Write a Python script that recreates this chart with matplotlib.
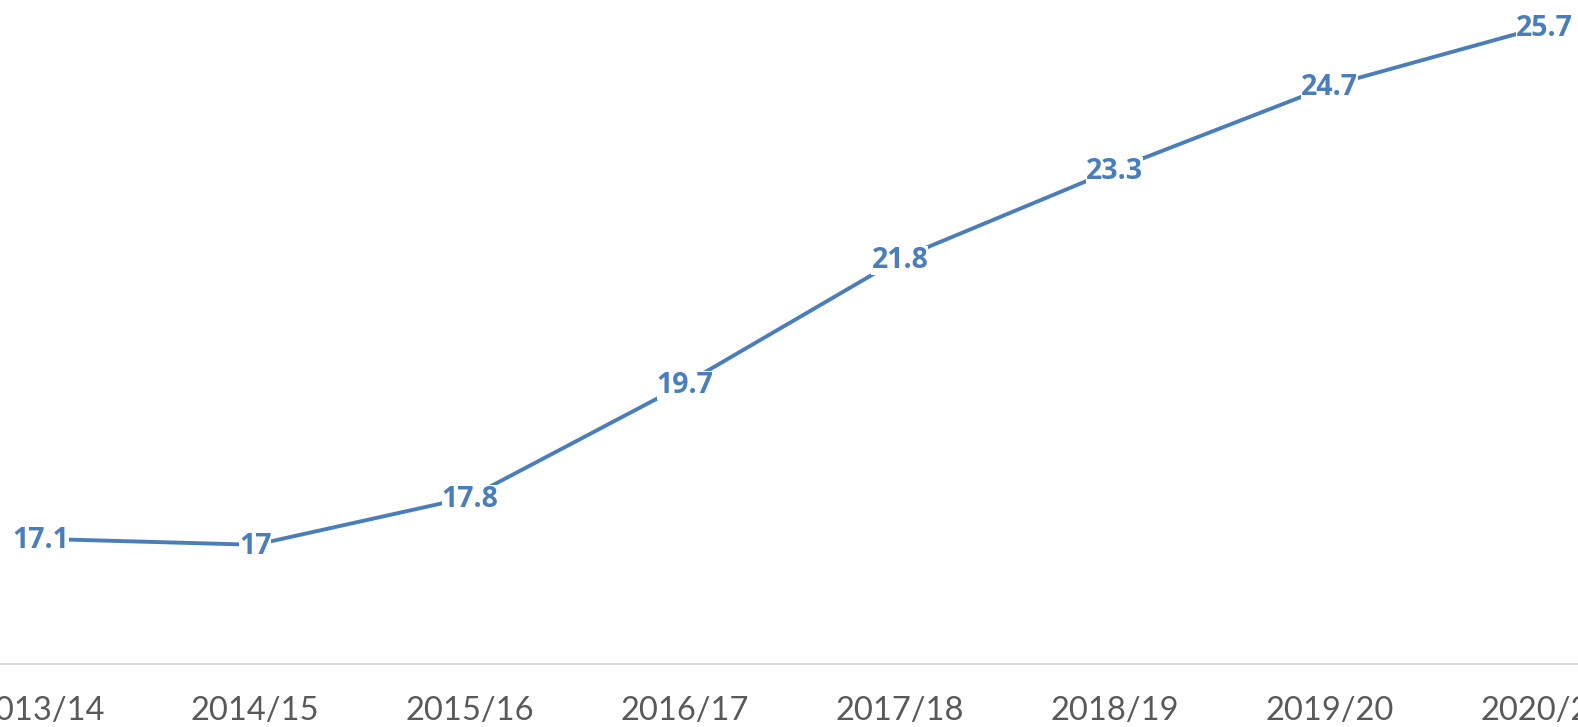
import matplotlib.pyplot as plt

# data
years = ['2013/14', '2014/15', '2015/16', '2016/17', '2017/18', '2018/19', '2019/20', '2020/21']
values = [17.1, 17.0, 17.8, 19.7, 21.8, 23.3, 24.7, 25.7]

line_color = '#4A7EBB'

fig = plt.figure(figsize=(15.78, 7.27), dpi=100)
ax = fig.add_axes([0, 63 / 727, 1, 664 / 727])

x = list(range(len(years)))
ax.plot(x, values, color=line_color, linewidth=2.8, solid_capstyle='butt', zorder=2)

# data labels, centred on the points with a white box behind them
for xi, v in zip(x, values):
    ax.annotate(f'{v:g}', (xi, v), xytext=(0, -1.5), textcoords='offset points',
                ha='center', va='center', fontsize=20.5, fontweight='bold',
                family='Open Sans', color=line_color, zorder=3,
                bbox=dict(boxstyle='square,pad=0.0', facecolor='white', edgecolor='none'))

ax.set_xlim(-40.3 / 214.9, (1578 - 40.3) / 214.9)
ax.set_ylim(15, 26.14)
ax.set_xticks(x)
ax.set_xticklabels(years, fontsize=23.5, family='Lato', color='#595959')
ax.tick_params(axis='x', length=0, pad=23)
ax.set_yticks([])

for s in ['top', 'right', 'left']:
    ax.spines[s].set_visible(False)
ax.spines['bottom'].set_color('#D9D9D9')
ax.spines['bottom'].set_linewidth(1.5)

fig.savefig('out.png', dpi=100)
